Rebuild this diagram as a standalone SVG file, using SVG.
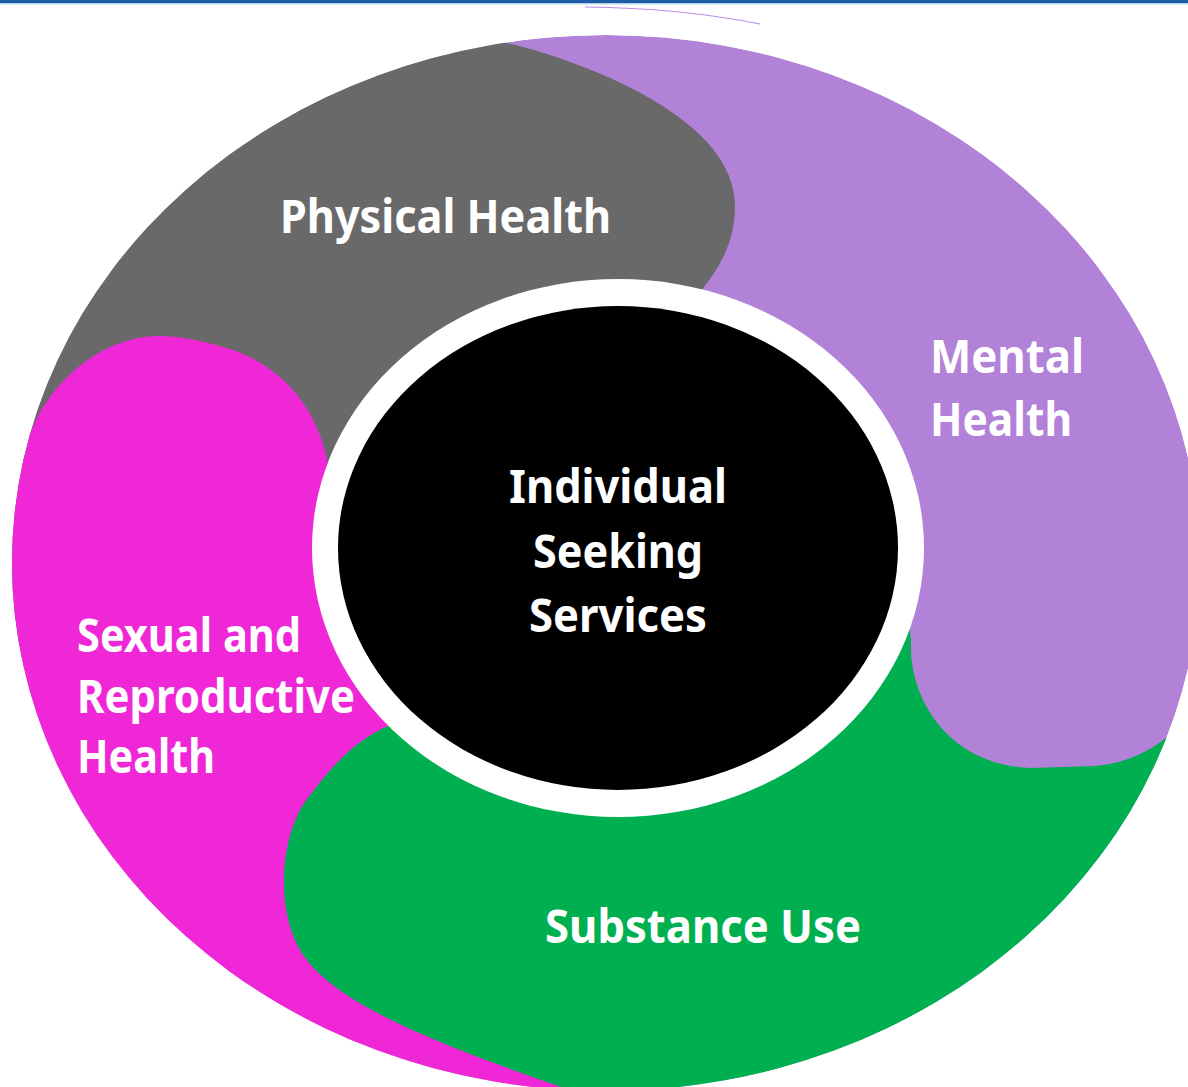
<svg xmlns="http://www.w3.org/2000/svg" width="1188" height="1087" viewBox="0 0 1188 1087">
<style>
.lbl{font-family:"Noto Sans","Open Sans","Liberation Sans",sans-serif;font-weight:700;font-size:47px;fill:#ffffff}
</style>
<defs>
<clipPath id="outer"><ellipse cx="606" cy="563" rx="594" ry="528"/></clipPath>
</defs>
<rect x="0" y="0" width="1188" height="1087" fill="#ffffff"/>
<rect x="0" y="0" width="1188" height="3.5" fill="#1C5BA5"/>
<rect x="0" y="3.5" width="1188" height="1.5" fill="#D9F1F4"/>
<path d="M585,7 Q680,8 760,24" fill="none" stroke="#B381D9" stroke-width="1.2" stroke-opacity="0.9"/>
<g clip-path="url(#outer)">
<g id="mental-health"><ellipse cx="606" cy="563" rx="594" ry="528" fill="#B281D8"/></g>
<g id="physical-health"><path d="M-50,700 L-50,-50 L480,-50 L503,42 C590,62 735,120 735,205 C735,240 722,265 700,292 L660,330 L618,560 L330,480 Z" fill="#696969"/></g>
<g id="sexual-health"><path d="M-50,450 L26,450 C36,398 90,338 157,336 C185,336 210,343 233,350 C290,370 325,420 330,480 L618,560 L500,900 L600,1130 L-50,1130 Z" fill="#F027D7"/></g>
<g id="substance-use"><path d="M618,560 L390,725 C350,742 325,775 305,802 C285,830 272,900 300,950 C330,1000 420,1040 600,1100 L600,1130 L1260,1130 L1260,725 L1172,733 C1155,748 1130,763 1095,766 L1030,768 C950,765 908,700 911,640 L906,600 Z" fill="#00AF50"/></g>
</g>
<g id="center">
<ellipse cx="618" cy="548" rx="306" ry="269" fill="#ffffff"/>
<ellipse cx="618" cy="548" rx="280" ry="242" fill="#000000"/>
<text class="lbl" x="509" y="503" textLength="218" lengthAdjust="spacingAndGlyphs">Individual</text>
<text class="lbl" x="533" y="568" textLength="170" lengthAdjust="spacingAndGlyphs">Seeking</text>
<text class="lbl" x="529" y="632" textLength="178" lengthAdjust="spacingAndGlyphs">Services</text>
</g>
<g id="labels">
<text class="lbl" x="280" y="233" textLength="331" lengthAdjust="spacingAndGlyphs">Physical Health</text>
<text class="lbl" x="930" y="373" textLength="154" lengthAdjust="spacingAndGlyphs">Mental</text>
<text class="lbl" x="930" y="436" textLength="142" lengthAdjust="spacingAndGlyphs">Health</text>
<text class="lbl" x="77" y="652" textLength="224" lengthAdjust="spacingAndGlyphs">Sexual and</text>
<text class="lbl" x="77" y="713" textLength="278" lengthAdjust="spacingAndGlyphs">Reproductive</text>
<text class="lbl" x="77" y="773" textLength="138" lengthAdjust="spacingAndGlyphs">Health</text>
<text class="lbl" x="545" y="943" textLength="316" lengthAdjust="spacingAndGlyphs">Substance Use</text>
</g>
<g id="connectors"/>
</svg>
